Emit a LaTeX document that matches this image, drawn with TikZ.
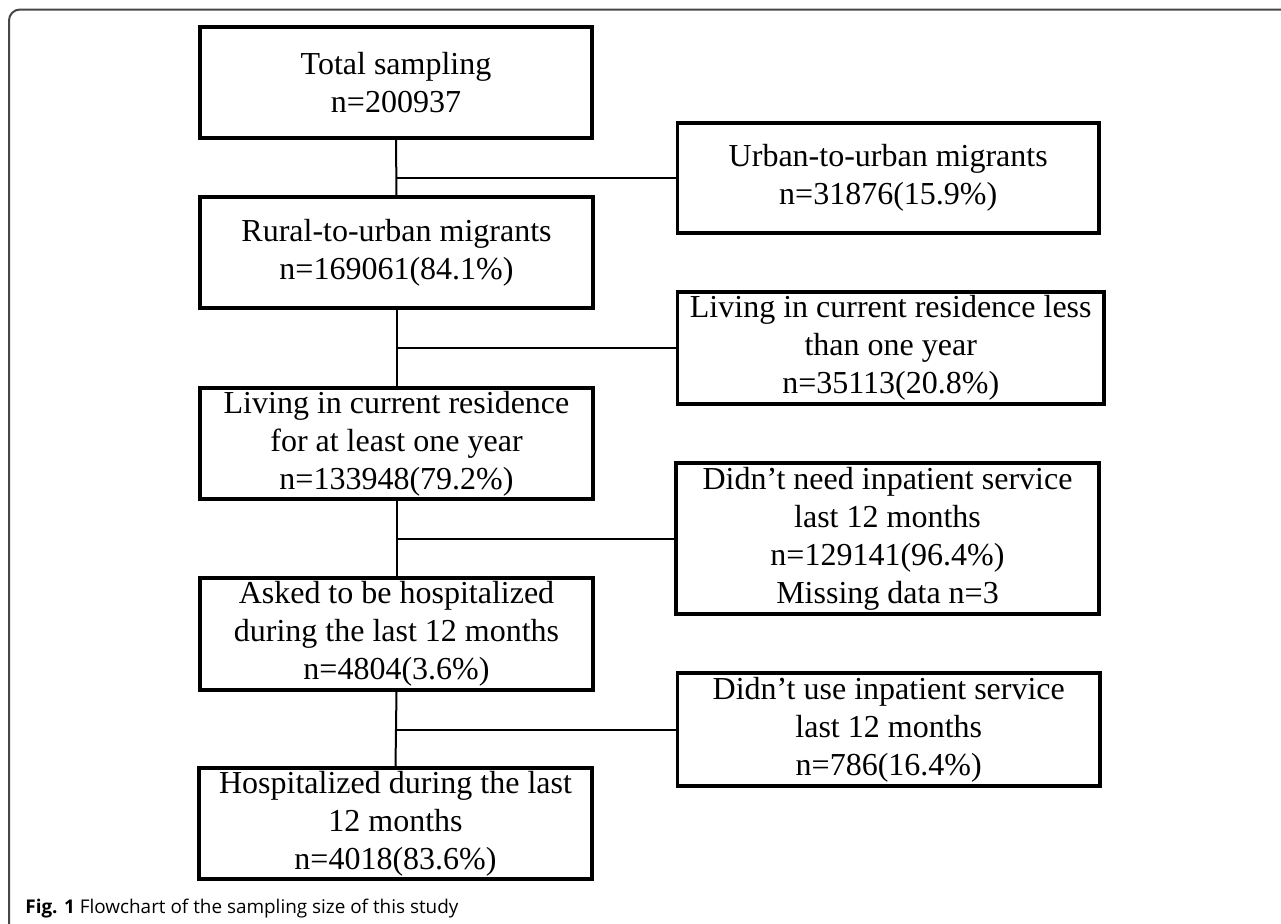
\documentclass[tikz,border=0pt]{standalone}
\usepackage{fontspec}
\usepackage{graphicx}
\setmainfont{Liberation Serif}
\newfontfamily\capfont{Open Sans}
\begin{document}
\begin{tikzpicture}[x=0.5pt,y=-0.5pt,
  box/.style={draw=black, line width=1.75pt, align=center, inner sep=0pt,
              font=\fontsize{16pt}{19pt}\selectfont},
  link/.style={draw=black, line width=1pt},
  frame/.style={draw=black!72, line width=1pt, rounded corners=5.5pt}]
\useasboundingbox (0,0) rectangle (1281,923);
\clip (0,0) rectangle (1281,923);
\draw[frame] (9,960) -- (9,9.5) -- (1320,9.5);

% left column
\node[box, minimum width=196pt, minimum height=55.5pt] (b1) at (396,82.5) {Total sampling\\n=200937};
\node[box, minimum width=196.5pt, minimum height=55.5pt] (b2) at (396.5,252.5) {Rural-to-urban migrants\\n=169061(84.1\%)};
\node[box, minimum width=196.5pt, minimum height=55.5pt] (b3) at (396.5,443.5) {Living in current residence\\for at least one year\\n=133948(79.2\%)};
\node[box, minimum width=196.5pt, minimum height=56pt] (b4) at (396.5,634) {Asked to be hospitalized\\during the last 12 months\\n=4804(3.6\%)};
\node[box, minimum width=196.5pt, minimum height=55.5pt] (b5) at (395.5,823.5) {Hospitalized during the last\\12 months\\n=4018(83.6\%)};

% right column
\node[box, minimum width=210.75pt, minimum height=55pt] (r1) at (888.25,178) {Urban-to-urban migrants\\n=31876(15.9\%)};
\node[box, minimum width=213.25pt, minimum height=56pt] (r2) at (890.75,348) {Living in current residence less\\than one year\\n=35113(20.8\%)};
\node[box, minimum width=211.5pt, minimum height=75.5pt] (r3) at (887.5,538.5) {Didn’t need inpatient service\\last 12 months\\n=129141(96.4\%)\\Missing data n=3};
\node[box, minimum width=211.25pt, minimum height=56.5pt] (r4) at (888.75,729.5) {Didn’t use inpatient service\\last 12 months\\n=786(16.4\%)};

% connectors
\draw[link] (b1.south) -- (b2.north);
\draw[link] (b1.south |- r1.west) -- (r1.west);
\draw[link] (b2.south) -- (b3.north);
\draw[link] (b2.south |- r2.west) -- (r2.west);
\draw[link] (b3.south) -- (b4.north);
\draw[link] (b3.south |- r3.west) -- (r3.west);
\draw[link] (b4.south) -- (b5.north);
\draw[link] (b4.south |- r4.west) -- (r4.west);

% caption
\node[anchor=base west, inner sep=0pt] (cap) at (25,913)
  {\resizebox{216.5pt}{!}{\capfont\fontsize{9pt}{11pt}\selectfont\textbf{Fig. 1} Flowchart of the sampling size of this study}};
\end{tikzpicture}
\end{document}
